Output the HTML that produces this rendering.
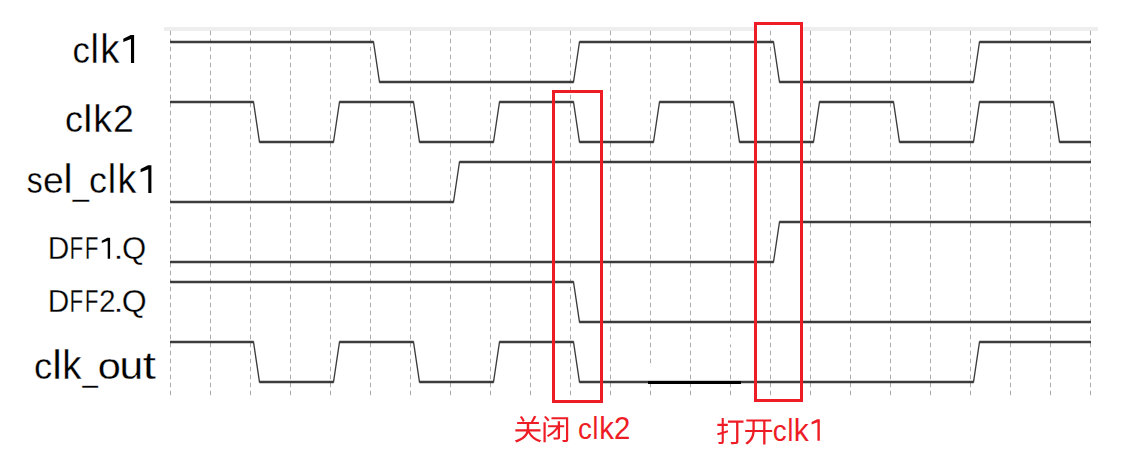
<!DOCTYPE html>
<html><head><meta charset="utf-8"><style>
html,body{margin:0;padding:0;background:#fff;}
body{width:1131px;height:466px;overflow:hidden;position:relative;}
svg{position:absolute;left:0;top:0;}
.lbl{font-family:"Liberation Sans",sans-serif;fill:#000;stroke:#fff;stroke-width:0.3px;vector-effect:non-scaling-stroke;}
</style></head><body>
<svg width="1131" height="466" viewBox="0 0 1131 466">
<rect x="164" y="27" width="934" height="4" fill="#eeeeee"/>
<rect x="757" y="25" width="43" height="7" fill="#fff"/>
<g stroke="#aaaaaa" stroke-width="1" stroke-dasharray="4.4 3.6"><line x1="170.5" y1="30.8" x2="170.5" y2="395.5"/><line x1="210.5" y1="30.8" x2="210.5" y2="395.5"/><line x1="250.5" y1="30.8" x2="250.5" y2="395.5"/><line x1="290.5" y1="30.8" x2="290.5" y2="395.5"/><line x1="330.5" y1="30.8" x2="330.5" y2="395.5"/><line x1="370.5" y1="30.8" x2="370.5" y2="395.5"/><line x1="410.5" y1="30.8" x2="410.5" y2="395.5"/><line x1="450.5" y1="30.8" x2="450.5" y2="395.5"/><line x1="490.5" y1="30.8" x2="490.5" y2="395.5"/><line x1="530.5" y1="30.8" x2="530.5" y2="395.5"/><line x1="570.5" y1="30.8" x2="570.5" y2="395.5"/><line x1="610.5" y1="30.8" x2="610.5" y2="395.5"/><line x1="650.5" y1="30.8" x2="650.5" y2="395.5"/><line x1="690.5" y1="30.8" x2="690.5" y2="395.5"/><line x1="730.5" y1="30.8" x2="730.5" y2="395.5"/><line x1="770.5" y1="30.8" x2="770.5" y2="395.5"/><line x1="810.5" y1="30.8" x2="810.5" y2="395.5"/><line x1="850.5" y1="30.8" x2="850.5" y2="395.5"/><line x1="890.5" y1="30.8" x2="890.5" y2="395.5"/><line x1="930.5" y1="30.8" x2="930.5" y2="395.5"/><line x1="970.5" y1="30.8" x2="970.5" y2="395.5"/><line x1="1010.5" y1="30.8" x2="1010.5" y2="395.5"/><line x1="1050.5" y1="30.8" x2="1050.5" y2="395.5"/><line x1="1090.5" y1="30.8" x2="1090.5" y2="395.5"/></g>
<g fill="none" stroke="#3c3c3c" stroke-width="1.35" stroke-linejoin="miter"><path d="M170,42 H373.5 L379.5,82 H573.5 L579.5,42 H773.5 L779.5,82 H973.5 L979.5,42 H1091"/><path d="M170,102 H253.5 L259.5,142 H333.5 L339.5,102 H413.5 L419.5,142 H493.5 L499.5,102 H573.5 L579.5,142 H653.5 L659.5,102 H733.5 L739.5,142 H813.5 L819.5,102 H893.5 L899.5,142 H973.5 L979.5,102 H1053.5 L1059.5,142 H1091"/><path d="M170,202 H453.5 L459.5,162 H1091"/><path d="M170,262 H773.5 L779.5,222 H1091"/><path d="M170,282 H573.5 L579.5,322 H1091"/><path d="M170,342 H253.5 L259.5,382 H333.5 L339.5,342 H413.5 L419.5,382 H493.5 L499.5,342 H573.5 L579.5,382 H973.5 L979.5,342 H1091"/></g>
<path fill="none" stroke="#3c3c3c" stroke-width="2.4" d="M170,42 H373.5 M379.5,82 H573.5 M579.5,42 H773.5 M779.5,82 H973.5 M979.5,42 H1091 M170,102 H253.5 M259.5,142 H333.5 M339.5,102 H413.5 M419.5,142 H493.5 M499.5,102 H573.5 M579.5,142 H653.5 M659.5,102 H733.5 M739.5,142 H813.5 M819.5,102 H893.5 M899.5,142 H973.5 M979.5,102 H1053.5 M1059.5,142 H1091 M170,202 H453.5 M459.5,162 H1091 M170,262 H773.5 M779.5,222 H1091 M170,282 H573.5 M579.5,322 H1091 M170,342 H253.5 M259.5,382 H333.5 M339.5,342 H413.5 M419.5,382 H493.5 M499.5,342 H573.5 M579.5,382 H973.5 M979.5,342 H1091"/>
<rect x="649" y="367" width="3" height="13" fill="#fff"/>
<rect x="729" y="337.5" width="3" height="7" fill="#fff"/>
<rect x="648" y="381" width="93" height="3" fill="#000"/>
<g fill="none" stroke="#ee1c25" stroke-width="3">
<rect x="553.5" y="91.5" width="48" height="310"/>
<rect x="755.5" y="23.5" width="46" height="377"/>
</g>
<text class="lbl" font-size="100" transform="matrix(0.34790,0,0,0.37448,72.422,62.900)">c</text><text class="lbl" font-size="100" transform="matrix(0.37547,0,0,0.40022,90.470,62.900)">l</text><text class="lbl" font-size="100" transform="matrix(0.38472,0,0,0.40022,100.208,62.900)">k</text><path fill="#000" d="M123.30,38.77 L130.75,35.00 L134.10,35.00 L134.10,62.90 L130.97,62.90 L130.97,39.05 L123.30,41.98 Z"/><text class="lbl" font-size="100" transform="matrix(0.35950,0,0,0.36797,64.973,131.800)">c</text><text class="lbl" font-size="100" transform="matrix(0.40960,0,0,0.39332,83.340,131.800)">l</text><text class="lbl" font-size="100" transform="matrix(0.37781,0,0,0.39332,93.254,131.800)">k</text><text class="lbl" font-size="100" transform="matrix(0.37536,0,0,0.39528,113.112,131.800)">2</text><text class="lbl" font-size="100" transform="matrix(0.31878,0,0,0.36898,26.813,193.000)">s</text><text class="lbl" font-size="100" transform="matrix(0.37294,0,0,0.36797,43.016,193.000)">e</text><text class="lbl" font-size="100" transform="matrix(0.40960,0,0,0.39746,63.440,193.000)">l</text><text class="lbl" font-size="100" transform="matrix(0.29184,0,0,0.36234,72.842,194.599)">_</text><text class="lbl" font-size="100" transform="matrix(0.35950,0,0,0.36797,89.073,193.000)">c</text><text class="lbl" font-size="100" transform="matrix(0.37547,0,0,0.39746,107.770,193.000)">l</text><text class="lbl" font-size="100" transform="matrix(0.37781,0,0,0.39746,117.454,193.000)">k</text><path fill="#000" d="M140.60,169.04 L148.05,165.30 L151.40,165.30 L151.40,193.00 L148.27,193.00 L148.27,169.32 L140.60,172.23 Z"/><text class="lbl" font-size="100" transform="matrix(0.29884,0,0,0.30524,47.849,258.800)">D</text><text class="lbl" font-size="100" transform="matrix(0.22505,0,0,0.30524,69.554,258.800)">F</text><text class="lbl" font-size="100" transform="matrix(0.22505,0,0,0.30524,84.654,258.800)">F</text><path fill="#000" d="M101.80,240.64 L107.53,237.80 L110.10,237.80 L110.10,258.80 L107.69,258.80 L107.69,240.84 L101.80,243.05 Z"/><text class="lbl" font-size="100" transform="matrix(0.35709,0,0,0.29925,113.439,258.900)">.</text><text class="lbl" font-size="100" transform="matrix(0.31203,0,0,0.30935,122.022,258.800)">Q</text><text class="lbl" font-size="100" transform="matrix(0.29884,0,0,0.30524,47.849,311.900)">D</text><text class="lbl" font-size="100" transform="matrix(0.22505,0,0,0.30524,69.554,311.900)">F</text><text class="lbl" font-size="100" transform="matrix(0.22505,0,0,0.30524,84.654,311.900)">F</text><text class="lbl" font-size="100" transform="matrix(0.29853,0,0,0.31078,98.899,311.900)">2</text><text class="lbl" font-size="100" transform="matrix(0.35709,0,0,0.29925,113.539,312.000)">.</text><text class="lbl" font-size="100" transform="matrix(0.32082,0,0,0.30935,121.780,311.900)">Q</text><text class="lbl" font-size="100" transform="matrix(0.36414,0,0,0.37355,33.953,379.300)">c</text><text class="lbl" font-size="100" transform="matrix(0.43236,0,0,0.41126,52.187,379.300)">l</text><text class="lbl" font-size="100" transform="matrix(0.38472,0,0,0.41126,62.208,379.300)">k</text><text class="lbl" font-size="100" transform="matrix(0.27639,0,0,0.36234,82.418,380.799)">_</text><text class="lbl" font-size="100" transform="matrix(0.41511,0,0,0.37355,97.857,379.300)">o</text><text class="lbl" font-size="100" transform="matrix(0.42608,0,0,0.38045,119.533,379.300)">u</text><text class="lbl" font-size="100" transform="matrix(0.47382,0,0,0.38515,142.783,378.999)">t</text>
<g fill="#ee1c25">
<path transform="matrix(0.02895,0,0,-0.02918,513.41,440.19)" d="M224 799C265 746 307 675 324 627H129V552H461V430C461 412 460 393 459 374H68V300H444C412 192 317 77 48 -13C68 -30 93 -62 102 -79C360 11 470 127 515 243C599 88 729 -21 907 -74C919 -51 942 -18 960 -1C777 44 640 152 565 300H935V374H544L546 429V552H881V627H683C719 681 759 749 792 809L711 836C686 774 640 687 600 627H326L392 663C373 710 330 780 287 831Z"/><path transform="matrix(0.02998,0,0,-0.02893,540.83,439.99)" d="M89 615V-80H163V615ZM104 793C151 748 205 685 228 644L290 685C265 727 209 787 162 829ZM563 646V512H242V441H520C452 331 333 227 196 157C213 145 237 120 248 105C376 173 485 268 563 377V102C563 86 558 82 542 81C525 81 469 81 410 83C420 62 432 30 435 10C515 10 567 11 598 23C631 34 641 55 641 100V441H781V512H641V646ZM355 785V715H839V15C839 1 835 -3 820 -4C807 -4 759 -4 713 -3C723 -22 733 -54 737 -73C804 -74 848 -72 876 -60C903 -48 913 -27 913 15V785Z"/><path transform="matrix(0.02863,0,0,-0.02856,715.98,442.09)" d="M199 840V638H48V566H199V353C139 337 84 322 39 311L62 236L199 276V20C199 6 193 1 179 1C166 0 122 0 75 1C85 -19 96 -50 99 -70C169 -70 210 -68 237 -56C263 -44 273 -23 273 19V298L423 343L413 414L273 374V566H412V638H273V840ZM418 756V681H703V31C703 12 696 6 676 6C654 4 582 4 508 7C520 -15 534 -52 539 -74C634 -74 697 -73 734 -60C770 -47 783 -21 783 30V681H961V756Z"/><path transform="matrix(0.03010,0,0,-0.02922,743.63,442.15)" d="M649 703V418H369V461V703ZM52 418V346H288C274 209 223 75 54 -28C74 -41 101 -66 114 -84C299 33 351 189 365 346H649V-81H726V346H949V418H726V703H918V775H89V703H293V461L292 418Z"/><text class="lbl" style="fill:#ee1c25;stroke:none" font-size="100" transform="matrix(0.27832,0,0,0.29363,577.918,438.900)">c</text><text class="lbl" style="fill:#ee1c25;stroke:none" font-size="100" transform="matrix(0.26169,0,0,0.30913,592.537,438.900)">l</text><text class="lbl" style="fill:#ee1c25;stroke:none" font-size="100" transform="matrix(0.29257,0,0,0.30913,599.129,438.900)">k</text><text class="lbl" style="fill:#ee1c25;stroke:none" font-size="100" transform="matrix(0.29414,0,0,0.30935,614.021,438.900)">2</text><text class="lbl" style="fill:#ee1c25;stroke:none" font-size="100" transform="matrix(0.27832,0,0,0.29363,772.818,440.700)">c</text><text class="lbl" style="fill:#ee1c25;stroke:none" font-size="100" transform="matrix(0.26169,0,0,0.30913,787.537,440.700)">l</text><text class="lbl" style="fill:#ee1c25;stroke:none" font-size="100" transform="matrix(0.29948,0,0,0.30913,793.782,440.700)">k</text><path fill="#ee1c25" d="M811.60,422.10 L817.26,419.20 L819.80,419.20 L819.80,440.70 L817.42,440.70 L817.42,422.32 L811.60,424.57 Z"/>
</g>
</svg>
</body></html>
